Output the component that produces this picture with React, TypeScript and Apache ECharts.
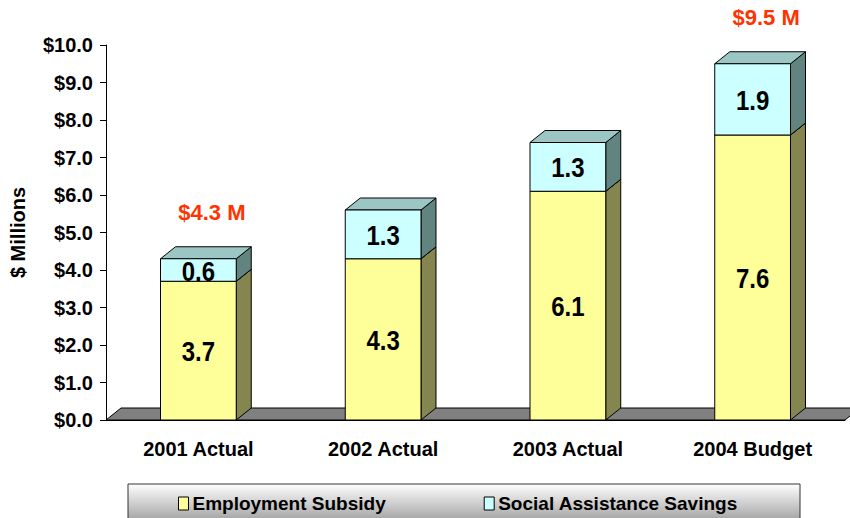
import React, { useEffect, useRef } from "react";
import * as echarts from "echarts";

const categories = ["2001 Actual", "2002 Actual", "2003 Actual", "2004 Budget"];
const employmentSubsidy = [3.7, 4.3, 6.1, 7.6];
const socialAssistance = [0.6, 1.3, 1.3, 1.9];
const totalLabels = ["$4.3 M", "", "", "$9.5 M"];
const totals = [4.3, 5.6, 7.4, 9.5];
const yTicks = { min: 0, max: 10, interval: 1 };

const DX = 15;
const DY = -12;
const FONT = "'Liberation Sans', Arial, sans-serif";

function makeBarRender(front: string, top: string, side: string) {
  return (params: any, api: any) => {
    const idx = api.value(0);
    const base = api.value(1);
    const topV = api.value(2);
    const val = api.value(3);
    const p0 = api.coord([idx, base]);
    const p1 = api.coord([idx, topV]);
    const w = api.size([1, 0])[0] * 0.41;
    const x0 = p0[0] - w / 2;
    const x1 = p0[0] + w / 2;
    const yb = p0[1];
    const yt = p1[1];
    const lineStyle = { stroke: "#000", lineWidth: 1 };
    return {
      type: "group",
      children: [
        {
          type: "polygon",
          shape: { points: [[x1, yb], [x1 + DX, yb + DY], [x1 + DX, yt + DY], [x1, yt]] },
          style: { fill: side, ...lineStyle },
        },
        {
          type: "polygon",
          shape: { points: [[x0, yt], [x0 + DX, yt + DY], [x1 + DX, yt + DY], [x1, yt]] },
          style: { fill: top, ...lineStyle },
        },
        {
          type: "rect",
          shape: { x: x0, y: yt, width: w, height: yb - yt },
          style: { fill: front, ...lineStyle },
        },
        {
          type: "text",
          x: (x0 + x1) / 2,
          y: (yt + yb) / 2 + 1,
          scaleY: 1.15,
          style: {
            text: val.toFixed(1),
            fill: "#000",
            font: `bold 24px ${FONT}`,
            align: "center",
            verticalAlign: "middle",
          },
        },
      ],
    };
  };
}

export default function App() {
  const ref = useRef<HTMLDivElement>(null);
  useEffect(() => {
    const chart = echarts.init(ref.current!, null, { renderer: "svg" });
    const empData = employmentSubsidy.map((v, i) => [i, 0, v, v]);
    const socData = socialAssistance.map((v, i) => [i, employmentSubsidy[i], employmentSubsidy[i] + v, v]);
    const totData = totals.map((v, i) => [i, v]);
    chart.setOption({
      animation: false,
      graphic: [
        {
          type: "rect",
          shape: { x: 128, y: 484, width: 672, height: 40 },
          style: {
            fill: new echarts.graphic.LinearGradient(0, 0, 0, 1, [
              { offset: 0, color: "#ffffff" },
              { offset: 1, color: "#9a9a9a" },
            ]),
            stroke: "#333",
            lineWidth: 1,
          },
          z: -1,
        },
      ],
      grid: { left: 106, right: 5, top: 45, bottom: 98, containLabel: false, outerBoundsMode: "none" },
      legend: {
        data: ["Employment Subsidy", "Social Assistance Savings"],
        left: 178,
        top: 494,
        padding: 0,
        itemGap: 98,
        itemWidth: 10,
        itemHeight: 13,
        icon: "rect",
        itemStyle: { borderColor: "#000", borderWidth: 1 },
        textStyle: { fontFamily: FONT, fontWeight: "bold", fontSize: 19, color: "#000", padding: [0, 0, 0, -1] },
      },
      xAxis: {
        type: "category",
        data: categories,
        axisLine: { lineStyle: { color: "#000", width: 1 } },
        axisTick: { length: 7, lineStyle: { color: "#000" } },
        axisLabel: { interval: 0, fontFamily: FONT, fontWeight: "bold", fontSize: 20, color: "#000", margin: 19 },
      },
      yAxis: {
        type: "value",
        min: yTicks.min,
        max: yTicks.max,
        interval: yTicks.interval,
        name: "$ Millions",
        nameLocation: "middle",
        nameGap: 78,
        nameRotate: 90,
        nameTextStyle: { fontFamily: FONT, fontWeight: "bold", fontSize: 20, color: "#000" },
        axisLine: { show: true, lineStyle: { color: "#000", width: 1 } },
        axisTick: { show: true, length: 6, lineStyle: { color: "#000" } },
        splitLine: { show: false },
        axisLabel: {
          fontFamily: FONT,
          fontWeight: "bold",
          fontSize: 20,
          color: "#000",
          margin: 13,
          formatter: (v: number) => `$${v.toFixed(1)}`,
        },
      },
      series: [
        {
          name: "floor",
          type: "custom",
          data: [[0]],
          z: 1,
          silent: true,
          renderItem: (params: any, api: any) => {
            const cs = params.coordSys;
            const yb = cs.y + cs.height;
            const xl = cs.x;
            const xr = cs.x + cs.width;
            return {
              type: "polygon",
              shape: { points: [[xl, yb], [xl + DX, yb + DY], [xr + DX, yb + DY], [xr, yb]] },
              style: { fill: "#808080", stroke: "#000", lineWidth: 1 },
            };
          },
        },
        {
          name: "Employment Subsidy",
          type: "custom",
          z: 3,
          itemStyle: { color: "#FFFF99" },
          data: empData,
          encode: { x: 0, y: [1, 2] },
          renderItem: makeBarRender("#FFFF99", "#CCCC7A", "#858550"),
        },
        {
          name: "Social Assistance Savings",
          type: "custom",
          z: 3,
          itemStyle: { color: "#CCFFFF" },
          data: socData,
          encode: { x: 0, y: [1, 2] },
          renderItem: makeBarRender("#CCFFFF", "#9CC6C4", "#628481"),
        },
        {
          name: "totals",
          type: "custom",
          z: 4,
          data: totData,
          encode: { x: 0, y: 1 },
          renderItem: (params: any, api: any) => {
            const i = api.value(0);
            const text = totalLabels[i];
            if (!text) return null;
            const p = api.coord([i, api.value(1)]);
            return {
              type: "text",
              x: p[0] + DX / 2 + 6,
              y: p[1] - 46,
              style: {
                text,
                fill: "#FF3300",
                font: `bold 22px ${FONT}`,
                align: "center",
                verticalAlign: "middle",
              },
            };
          },
        },
      ],
    });
    return () => chart.dispose();
  }, []);
  return <div ref={ref} style={{ width: 850, height: 518, position: "absolute", left: 0, top: 0 }} />;
}
